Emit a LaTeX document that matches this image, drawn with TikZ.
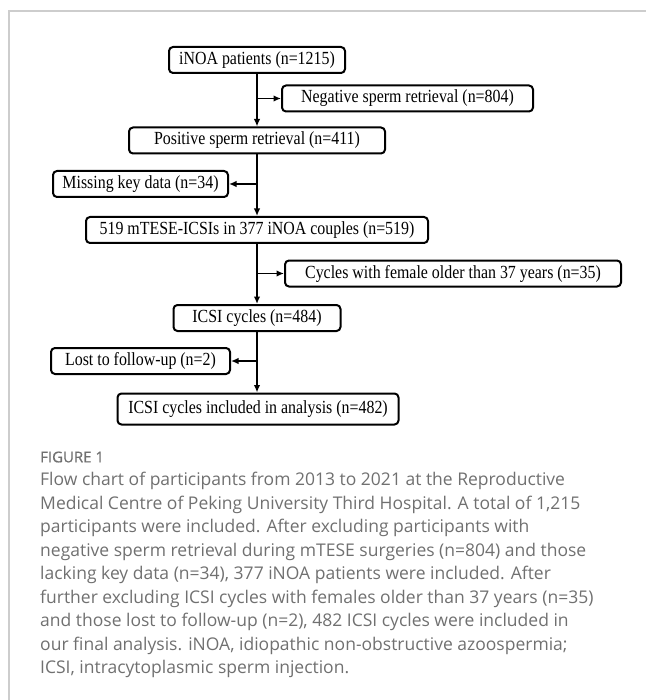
\documentclass[tikz,border=0pt]{standalone}
\usepackage{fontspec}
\setmainfont{Liberation Serif}
\newfontfamily\boxfont[FakeStretch=0.86]{Liberation Serif}
\newfontfamily\capfont{Open Sans}
\newfontfamily\figfont[FakeBold=0.7]{Open Sans}
\usepackage{tikz}
\usetikzlibrary{arrows.meta,positioning,calc}
\usepackage{xcolor}
\definecolor{capgray}{RGB}{112,112,112}
\definecolor{rulegray}{RGB}{205,205,205}

\begin{document}
\begin{tikzpicture}[x=1pt, y=-1pt,
  arr/.style={-{Latex[length=7.5pt,width=6.5pt]}, line width=1.8pt},
  box/.style={draw, line width=2pt, rounded corners=4pt, minimum height=26pt, inner sep=0pt, font=\boxfont\fontsize{18.5}{20}\selectfont},
  figlbl/.style={font=\figfont\fontsize{15}{17}\selectfont, text=capgray, inner sep=0pt, anchor=west},
  captxt/.style={font=\capfont\fontsize{17.5}{23.5}\selectfont, text=capgray, align=left, inner sep=0pt, anchor=north west}
]
\useasboundingbox (0,0) rectangle (646,700);

% Frame
\draw[rulegray, line width=1.5pt] (9,700) -- (9,11) -- (646,11);

% Main column
\node[box, minimum width=176pt] (inoa) at (257,60) {iNOA patients (n=1215)};
\node[box, minimum width=256pt] (pos) at (257,140.5) {Positive sperm retrieval (n=411)};
\node[box, minimum width=342pt] (mtese) at (257,230) {519 mTESE-ICSIs in 377 iNOA couples (n=519)};
\node[box, minimum width=167pt] (icsi) at (257,318) {ICSI cycles (n=484)};
\node[box, minimum width=281pt, minimum height=31pt] (incl) at (258,409) {ICSI cycles included in analysis (n=482)};

% Exclusions
\node[box, minimum width=251pt] (neg) at (407.5,98.5) {Negative sperm retrieval (n=804)};
\node[box, minimum width=175pt] (miss) at (140.5,184) {Missing key data (n=34)};
\node[box, minimum width=336pt] (old) at (453,273.5) {Cycles with female older than 37 years (n=35)};
\node[box, minimum width=179pt] (lost) at (140.5,361) {Lost to follow-up (n=2)};

% Trunk
\draw[arr] (inoa.south) -- (pos.north);
\draw[arr] (pos.south) -- (mtese.north);
\draw[arr] (mtese.south) -- (icsi.north);
\draw[arr] (icsi.south) -- (icsi.south |- incl.north);

% Branches
\coordinate (j1) at (inoa.south |- neg.west);
\coordinate (j2) at (pos.south |- miss.east);
\coordinate (j3) at (mtese.south |- old.west);
\coordinate (j4) at (icsi.south |- lost.east);
\draw[arr] (j1) -- (neg.west);
\draw[arr] (j2) -- (miss.east);
\draw[arr] (j3) -- (old.west);
\draw[arr] (j4) -- (lost.east);

% Caption
\node[figlbl] (fig) at (40,457) {FIGURE 1};
\node[captxt] (cap) at (40,472) {Flow chart of participants from 2013 to 2021 at the Reproductive\\
Medical Centre of Peking University Third Hospital. A total of 1,215\\
participants were included. After excluding participants with\\
negative sperm retrieval during mTESE surgeries (n=804) and those\\
lacking key data (n=34), 377 iNOA patients were included. After\\
further excluding ICSI cycles with females older than 37 years (n=35)\\
and those lost to follow-up (n=2), 482 ICSI cycles were included in\\
our final analysis. iNOA, idiopathic non-obstructive azoospermia;\\
ICSI, intracytoplasmic sperm injection.};

\end{tikzpicture}
\end{document}
